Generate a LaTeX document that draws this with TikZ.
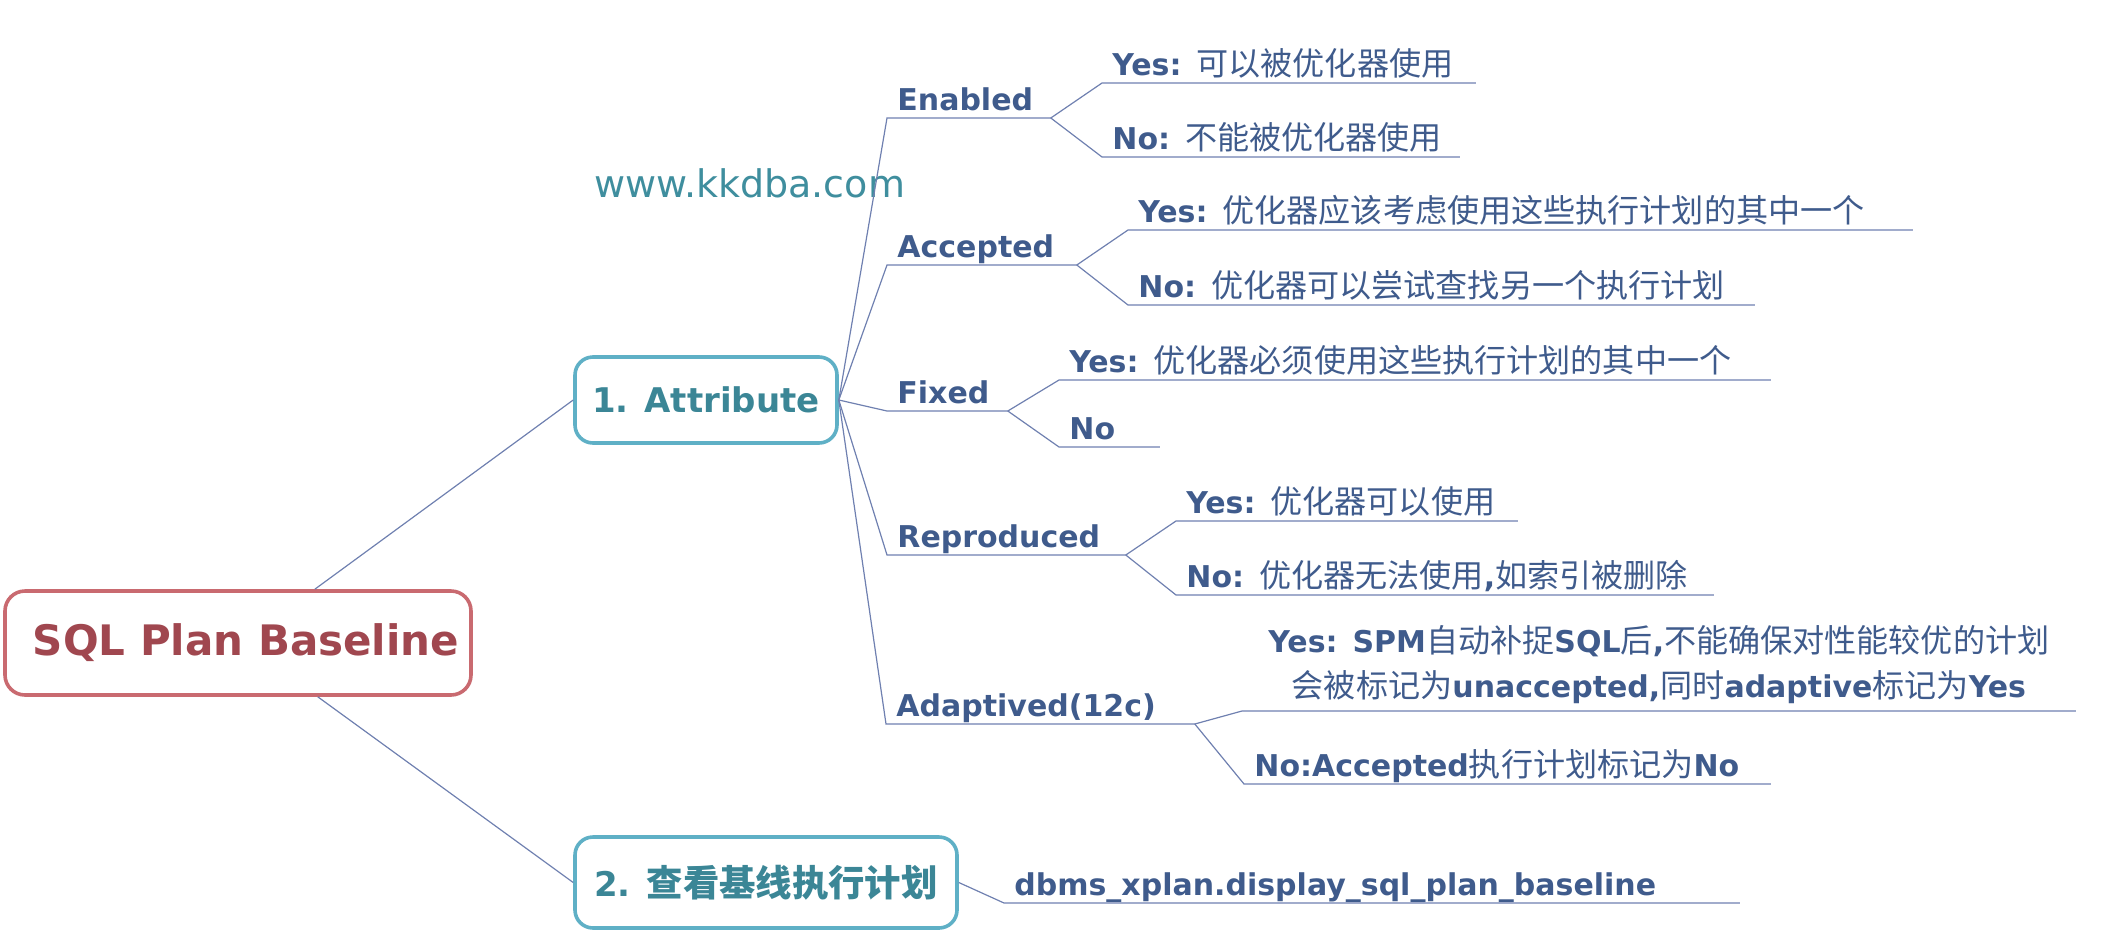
\documentclass[tikz,border=0pt]{standalone}
\usepackage{fontspec}
\setmainfont{DejaVu Sans}
\newfontfamily\cjk{Noto Sans CJK SC}[Scale=1.07]
\newcommand\zhtext[1]{{\cjk\mdseries #1}}
\usetikzlibrary{positioning}
\definecolor{leaftxt}{HTML}{3F5B8C}
\definecolor{linkc}{HTML}{6F80B0}
\definecolor{roottxt}{HTML}{A0474F}
\definecolor{rootline}{HTML}{C96A70}
\definecolor{toptxt}{HTML}{3B8696}
\definecolor{topline}{HTML}{5FB0C6}
\definecolor{wmtxt}{HTML}{3F8E9E}
\tikzset{rootbox/.style={draw=rootline,line width=1.8pt,rounded corners=10pt,text=roottxt,
    font=\fontsize{21}{25}\selectfont\bfseries,minimum width=233pt,minimum height=52pt}}
\tikzset{topicbox/.style={draw=topline,line width=1.8pt,rounded corners=9pt,text=toptxt,
    font=\fontsize{17}{20}\selectfont\bfseries}}
\tikzset{leafml/.style={anchor=south west,inner xsep=5pt,inner ysep=3.5pt,text=leaftxt,
    font=\fontsize{15}{22.5}\selectfont\bfseries,align=left}}
\tikzset{leaf/.style={leafml,text depth=0pt}}
\tikzset{link/.style={draw=linkc,line width=0.6pt}}
\tikzset{wmark/.style={anchor=base west,inner sep=0pt,text=wmtxt,font=\fontsize{19}{22}\selectfont}}

\begin{document}
\begin{tikzpicture}[x=0.5pt,y=-0.5pt]
\useasboundingbox (0,0) rectangle (2118,942);

\node[rootbox] (root) at (238,643) {\hspace{8pt}SQL Plan Baseline};
\node[topicbox,minimum width=131pt,minimum height=43pt] (att) at (706,400) {1. Attribute};
\node[topicbox,minimum width=191pt,minimum height=45.5pt] (plan) at (766,882.5) {2. {\cjk 查看基线执行计划}};
\node[wmark] (wm) at (594,197) {www.kkdba.com};

% Attribute children
\node[leaf,text width=71.5pt] (en) at (887,118) {Enabled};
\node[leaf,text width=176.5pt] (en-y) at (1102,83) {Yes: \zhtext{可以被优化器使用}};
\node[leaf,text width=168.5pt] (en-n) at (1102,157) {No: \zhtext{不能被优化器使用}};

\node[leaf,text width=84.5pt] (ac) at (887,265) {Accepted};
\node[leaf,text width=382pt] (ac-y) at (1128,230) {Yes: \zhtext{优化器应该考虑使用这些执行计划的其中一个}};
\node[leaf,text width=303pt] (ac-n) at (1128,305) {No: \zhtext{优化器可以尝试查找另一个执行计划}};

\node[leaf,text width=50pt] (fx) at (887,411) {Fixed};
\node[leaf,text width=345.5pt] (fx-y) at (1059,380) {Yes: \zhtext{优化器必须使用这些执行计划的其中一个}};
\node[leaf,text width=40pt] (fx-n) at (1059,447) {No};

\node[leaf,text width=109pt] (rp) at (887,555) {Reproduced};
\node[leaf,text width=160.5pt] (rp-y) at (1176,521) {Yes: \zhtext{优化器可以使用}};
\node[leaf,text width=258.5pt] (rp-n) at (1176,595) {No: \zhtext{优化器无法使用},\zhtext{如索引被删除}};

\node[leaf,text width=144pt] (ad) at (886,724) {Adaptived(12c)};
\node[leafml,align=center,text width=406.5pt] (ad-y) at (1242,711)
  {Yes: SPM\zhtext{自动补捉}SQL\zhtext{后},\zhtext{不能确保对性能较优的计划}\\
   \zhtext{会被标记为}unaccepted,\zhtext{同时}adaptive\zhtext{标记为}Yes};
\node[leaf,text width=253pt] (ad-n) at (1244,784) {No:Accepted\zhtext{执行计划标记为}No};

\node[leaf,text width=357.5pt] (db) at (1004,903) {dbms\_xplan.display\_sql\_plan\_baseline};

% connectors
\draw[link] (root.35) -- (att.west);
\draw[link] (root.-34) -- (plan.west);
\foreach \k in {en,ac,fx,rp,ad}
  \draw[link] (att.east) -- (\k.south west) -- (\k.south east);
\foreach \p/\c in {en/en-y,en/en-n,ac/ac-y,ac/ac-n,fx/fx-y,fx/fx-n,rp/rp-y,rp/rp-n,ad/ad-y,ad/ad-n}
  \draw[link] (\p.south east) -- (\c.south west) -- (\c.south east);
\draw[link] (plan.east) -- (db.south west) -- (db.south east);
\end{tikzpicture}
\end{document}
